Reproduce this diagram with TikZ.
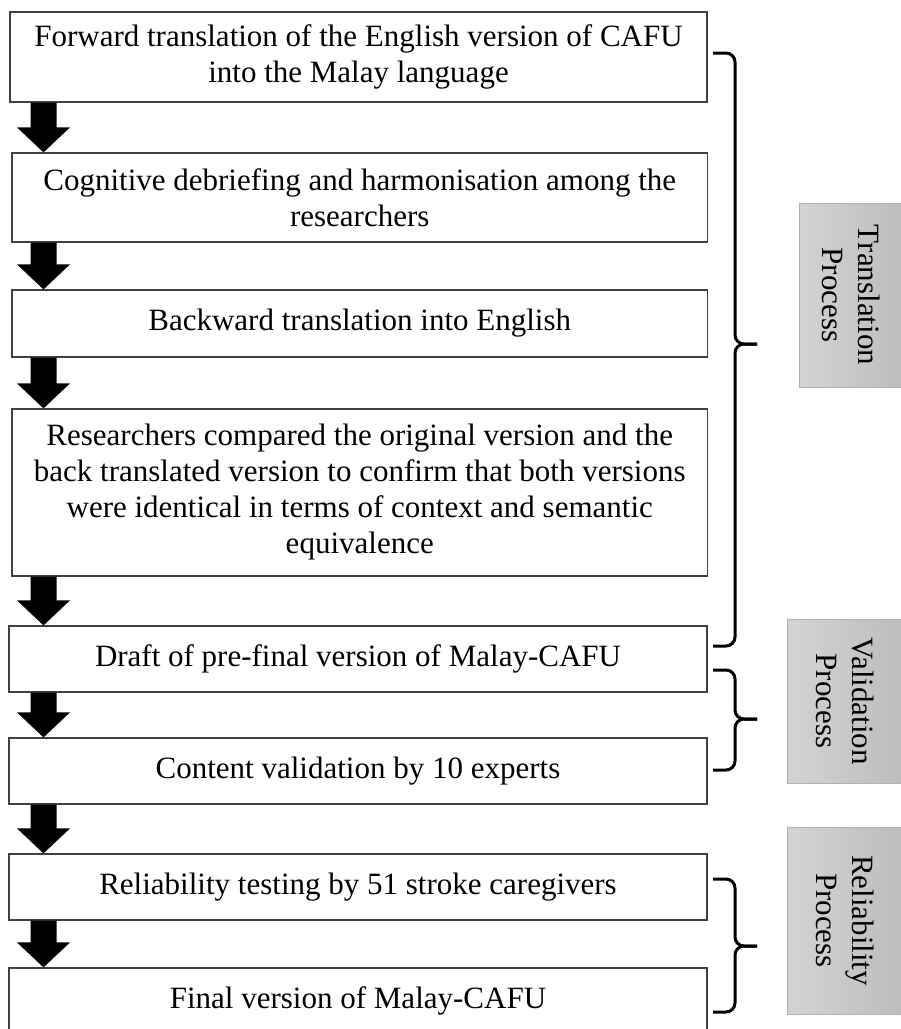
\documentclass[tikz,border=0pt]{standalone}
\usepackage{fontspec}
\setmainfont{Liberation Serif}
\usetikzlibrary{calc}

% block arrow from the bottom of one stage to the top of the next
\newcommand{\stagearrow}[2]{%
  \fill let \p1=(#1.south), \p2=(#2.north) in
    (30.5pt,\y1) -- (56.5pt,\y1) -- (56.5pt,\y2+25pt) -- (70pt,\y2+25pt)
    -- (43.5pt,\y2) -- (17pt,\y2+25pt) -- (30.5pt,\y2+25pt) -- cycle;}
% brace on the right: top, tip and bottom heights
\newcommand{\phasebrace}[3]{%
  \draw[bracket] (713,#1) -- (735,#1) -- (735,#2) -- (757,#2);
  \draw[bracket] (713,#3) -- (735,#3) -- (735,#2) -- (757,#2);}

\begin{document}
\begin{tikzpicture}[x=1pt, y=-1pt,
    font=\fontsize{31}{36}\selectfont,
    stage/.style={draw=black!75, line width=1.2pt, fill=white, align=center, inner sep=0pt, minimum width=697pt},
    phase/.style={draw=black!30, line width=0.8pt, left color=black!17, right color=black!26, rotate=-90, align=center, inner sep=0pt, font=\fontsize{31}{36}\selectfont},
    bracket/.style={line width=3pt, rounded corners=9pt}]
  \useasboundingbox (0,0) rectangle (901,1029);

  \node[stage, minimum height=90pt] (fwd) at (358.5,57) {Forward translation of the English version of CAFU\\into the Malay language};
  \node[stage, minimum width=695.5pt, minimum height=89pt] (cog) at (359.75,197.5) {Cognitive debriefing and harmonisation among the\\researchers};
  \node[stage, minimum width=695.5pt, minimum height=67pt] (back) at (359.75,323.5) {Backward translation into English};
  \node[stage, minimum width=695.5pt, minimum height=167pt] (cmp) at (359.75,492.5) {Researchers compared the original version and the\\back translated version to confirm that both versions\\were identical in terms of context and semantic\\equivalence};
  \node[stage, minimum width=698pt, minimum height=66pt] (draft) at (358,659) {Draft of pre-final version of Malay-CAFU};
  \node[stage, minimum width=698pt, minimum height=66pt] (valid) at (358,771) {Content validation by 10 experts};
  \node[stage, minimum width=698pt, minimum height=66pt] (rel) at (358,887) {Reliability testing by 51 stroke caregivers};
  \node[stage, minimum width=698pt, minimum height=66pt] (final) at (358,1001) {Final version of Malay-CAFU};

  \foreach \a/\b in {fwd/cog, cog/back, back/cmp, cmp/draft, draft/valid, valid/rel, rel/final}
    \stagearrow{\a}{\b};

  % braces and phase labels
  \phasebrace{53}{344}{646}
  \phasebrace{670}{719}{770}
  \phasebrace{879}{946}{1012}

  \node[phase, minimum width=184pt, minimum height=104pt] (transp) at (851,295) {Translation\\Process};
  \node[phase, minimum width=164pt, minimum height=116pt] (validp) at (845,701) {Validation\\Process};
  \node[phase, minimum width=187pt, minimum height=116pt] (relp) at (845,920.5) {Reliability\\Process};
\end{tikzpicture}
\end{document}
